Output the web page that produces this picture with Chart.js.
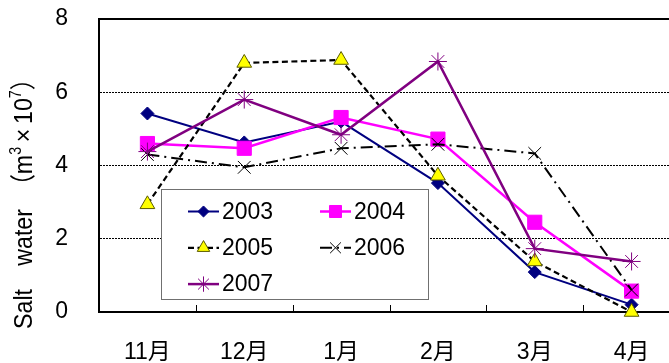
<!DOCTYPE html>
<html>
<head>
<meta charset="utf-8">
<script src="https://cdn.jsdelivr.net/npm/chart.js@4"></script>
<style>
  html, body { margin: 0; padding: 0; background: #fff; overflow: hidden; }
  #wrap { position: absolute; left: 0; top: 0; width: 680px; height: 363px; }
  #c { display: block; width: 680px; height: 363px; }
</style>
</head>
<body>
<div id="wrap"><canvas id="c" width="680" height="363" style="width:680px;height:363px"></canvas></div>
<script>
// Monthly salt water volume, Nov–Apr, for each season
const months = ['11月', '12月', '1月', '2月', '3月', '4月'];
const years = ['2003', '2004', '2005', '2006', '2007'];
const s2003 = [5.42, 4.63, 5.20, 3.52, 1.09, 0.20];
const s2004 = [4.60, 4.47, 5.31, 4.72, 2.45, 0.57];
const s2005 = [2.94, 6.80, 6.88, 3.72, 1.38, 0.00];
const s2006 = [4.30, 3.95, 4.47, 4.58, 4.33, 0.60];
const s2007 = [4.38, 5.80, 4.84, 6.84, 1.73, 1.38];
const yTicks = [0, 2, 4, 6, 8];
// y-axis title pieces; "sup" marks the raised exponents
const yTitleParts = [
  { t: 'Salt\u3000water\u3000（m' },
  { t: '3', sup: true },
  { t: '\u2009×\u200910' },
  { t: '7', sup: true },
  { t: '）' }
];

const FONT = '"Liberation Sans", "Noto Sans CJK JP", sans-serif';

function series(label, data, style, order) {
  return Object.assign({
    label, data, order,
    tension: 0,
    fill: false,
    clip: false,
    pointHoverRadius: 0
  }, style);
}

const datasets = [
  series(years[0], s2003, {
    borderColor: '#000080', borderWidth: 2,
    pointStyle: 'rectRot', pointRadius: 6.5,
    pointBackgroundColor: '#000080', pointBorderColor: '#000080', pointBorderWidth: 1
  }, 5),
  series(years[1], s2004, {
    borderColor: '#FF00FF', borderWidth: 2.5,
    pointStyle: 'rect', pointRadius: 10,
    pointBackgroundColor: '#FF00FF', pointBorderColor: '#FF00FF', pointBorderWidth: 1
  }, 4),
  series(years[2], s2005, {
    borderColor: '#000000', borderWidth: 2.2, borderDash: [6, 3.5],
    pointStyle: 'triangle', pointRadius: 8.5,
    pointBackgroundColor: '#FFFF00', pointBorderColor: '#5a5a00', pointBorderWidth: 1
  }, 3),
  series(years[3], s2006, {
    borderColor: '#000000', borderWidth: 2, borderDash: [12, 5, 2, 5],
    pointStyle: 'crossRot', pointRadius: 9,
    pointBackgroundColor: '#000000', pointBorderColor: '#000000', pointBorderWidth: 1
  }, 2),
  series(years[4], s2007, {
    borderColor: '#800080', borderWidth: 2.5,
    pointStyle: 'star', pointRadius: 9,
    pointBackgroundColor: '#800080', pointBorderColor: '#800080', pointBorderWidth: 1
  }, 1)
];

// Top frame line and small inward tick marks between month categories
const frame = {
  id: 'frame',
  afterDraw(chart) {
    const { ctx, chartArea: a } = chart;
    const x = chart.scales.x;
    ctx.save();
    ctx.strokeStyle = '#000';
    ctx.lineWidth = 2;
    ctx.beginPath();
    ctx.moveTo(a.left - 1, a.top);
    ctx.lineTo(a.right, a.top);
    ctx.moveTo(a.right, a.top);
    ctx.lineTo(a.right, a.bottom);
    ctx.stroke();
    ctx.lineWidth = 1;
    ctx.beginPath();
    for (let i = 1; i < months.length; i++) {
      const px = Math.round((x.getPixelForValue(i - 1) + x.getPixelForValue(i)) / 2) + 0.5;
      ctx.moveTo(px, a.bottom);
      ctx.lineTo(px, a.bottom - 7);
    }
    ctx.stroke();
    ctx.restore();
  }
};

// Rotated y-axis title with raised exponents
const sideTitle = {
  id: 'sideTitle',
  afterDraw(chart) {
    const ctx = chart.ctx;
    const size = 26, supSize = 16;
    ctx.save();
    const widths = yTitleParts.map(p => {
      ctx.font = (p.sup ? supSize : size) + 'px ' + FONT;
      return ctx.measureText(p.t).width;
    });
    const total = widths.reduce((a, b) => a + b, 0);
    const target = 262;
    ctx.translate(23, 198);
    ctx.rotate(-Math.PI / 2);
    ctx.scale(target / total, 1);
    ctx.fillStyle = '#000';
    ctx.textAlign = 'left';
    ctx.textBaseline = 'alphabetic';
    let cx = -total / 2;
    const base = size * 0.36;
    yTitleParts.forEach((p, i) => {
      ctx.font = (p.sup ? supSize : size) + 'px ' + FONT;
      ctx.fillText(p.t, cx, p.sup ? base - size * 0.42 : base);
      cx += widths[i];
    });
    ctx.restore();
  }
};

// Boxed legend inside the plot, two columns
const boxLegend = {
  id: 'boxLegend',
  afterDatasetsDraw(chart) {
    const ctx = chart.ctx;
    ctx.save();
    ctx.fillStyle = '#fff';
    ctx.fillRect(161.5, 189.5, 267, 110);
    ctx.strokeStyle = '#707070';
    ctx.lineWidth = 1;
    ctx.strokeRect(161.5, 189.5, 267, 110);
    chart.data.datasets.forEach((ds, i) => {
      const col = i % 2, row = Math.floor(i / 2);
      const x0 = col ? 320 : 188;
      const x1 = x0 + 31;
      const y = 211.5 + row * 36.3;
      ctx.setLineDash(ds.borderDash || []);
      ctx.lineWidth = ds.borderWidth;
      ctx.strokeStyle = ds.borderColor;
      ctx.beginPath();
      ctx.moveTo(x0, y);
      ctx.lineTo(x1, y);
      ctx.stroke();
      ctx.setLineDash([]);
      ctx.fillStyle = ds.pointBackgroundColor;
      ctx.strokeStyle = ds.pointBorderColor;
      ctx.lineWidth = ds.pointBorderWidth;
      Chart.helpers.drawPoint(ctx, {
        pointStyle: ds.pointStyle,
        radius: ds.pointRadius * 0.85,
        borderWidth: ds.pointBorderWidth,
        rotation: 0
      }, (x0 + x1) / 2, y);
      ctx.fillStyle = '#000';
      ctx.font = '23px ' + FONT;
      ctx.textAlign = 'left';
      ctx.textBaseline = 'middle';
      ctx.fillText(ds.label, x1 + 3, y + 1);
    });
    ctx.restore();
  }
};

new Chart(document.getElementById('c'), {
  type: 'line',
  data: { labels: months, datasets },
  options: {
    responsive: false,
    maintainAspectRatio: false,
    animation: false,
    devicePixelRatio: 1,
    layout: { autoPadding: false, padding: { top: 19, left: 0, right: 0, bottom: 0 } },
    plugins: {
      legend: { display: false },
      tooltip: { enabled: false },
      title: { display: false }
    },
    scales: {
      x: {
        type: 'category',
        offset: true,
        grid: { display: true, drawOnChartArea: false, drawTicks: false, color: 'rgba(0,0,0,0)' },
        border: { display: true, color: '#000', width: 2 },
        ticks: {
          color: '#000',
          font: { family: FONT, size: 23 },
          padding: 27,
          maxRotation: 0,
          autoSkip: false
        },
        afterFit(s) { s.height = 51; s.paddingLeft = 0; s.paddingRight = 0; }
      },
      y: {
        min: 0,
        max: 8,
        afterBuildTicks(s) { s.ticks = yTicks.map(v => ({ value: v })); },
        grid: {
          drawTicks: false,
          lineWidth: 1,
          color: c => (c.tick && c.tick.value > 0 && c.tick.value < 8) ? '#000' : 'rgba(0,0,0,0)'
        },
        border: { display: true, color: '#000', width: 2, dash: [2, 1] },
        ticks: {
          color: '#000',
          font: { family: FONT, size: 23 },
          padding: 31
        },
        afterFit(s) { s.width = 99; s.paddingTop = 0; s.paddingBottom = 0; }
      }
    }
  },
  plugins: [frame, sideTitle, boxLegend]
});
</script>
</body>
</html>
